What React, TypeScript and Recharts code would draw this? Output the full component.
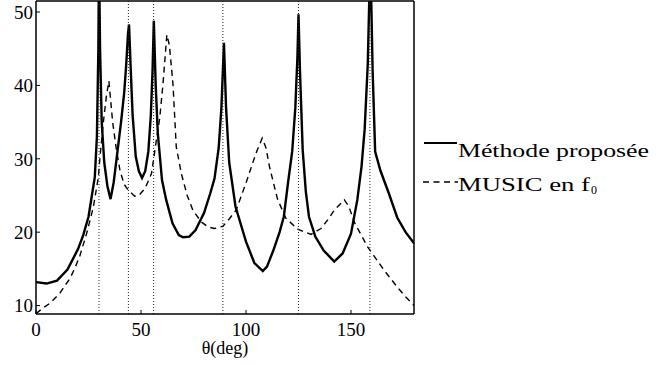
import { Legend, Line, LineChart, ReferenceLine, XAxis, YAxis } from "recharts";

const FONT = "'Liberation Serif', 'Times New Roman', Times, serif";

// theta (deg) / level for the proposed method (solid)
const methodTheta = [
  0, 5, 10, 15, 20, 22.5, 25, 26.5, 28, 29, 29.7, 30, 30.5, 31.3, 32.5, 34, 35.5,
  37, 38.8, 40.5, 42, 43, 43.8, 44.3, 45, 46, 47.5, 49, 50.5, 52, 53.5, 54.7, 55.5,
  56.1, 57, 58, 60, 62, 65, 68, 70, 73, 76, 80, 83, 85, 87, 88.3, 89.5, 90.5, 92,
  95, 100, 104, 108, 110, 113, 116, 118, 120, 122, 123.5, 124.5, 125, 125.7, 127,
  128.5, 130, 133, 137, 142, 146, 150, 153, 155, 156.5, 158, 159.2, 160.3, 161.5,
  164, 168, 172, 176, 180,
];
const methodLevel = [
  13.2, 13.0, 13.4, 14.9, 17.7, 19.6, 22.1, 24.8, 27.5, 33, 45, 58, 45, 35, 29.5,
  26.3, 24.5, 26.8, 31, 35, 39, 43, 47, 48.3, 43, 36, 30.3, 28.3, 27.4, 28.3, 31,
  36, 42, 48.8, 40, 33.5, 27.1, 24.4, 21.2, 19.6, 19.3, 19.4, 20.3, 22.6, 25.3,
  27.3, 31.5, 37, 45.8, 37, 29.5, 23.5, 18.7, 15.8, 14.7, 15.3, 17.5, 20, 22.1,
  26.7, 31, 37, 44, 49.7, 42, 31.2, 25.5, 22.1, 19.4, 17.5, 16.0, 17.1, 19.8,
  24.4, 28.9, 34, 43, 58, 42, 31, 28.4, 25.3, 22, 20, 18.5,
];

// theta (deg) / level for MUSIC at f0 (dashed)
const musicTheta = [
  0, 3, 6.6, 9, 11.4, 13.5, 16.2, 18.5, 20.9, 24.1, 27.3, 29.7, 30.4, 32, 33.5,
  34.7, 36.5, 38.3, 40, 42, 44, 47, 49, 52, 55, 57.3, 58.9, 60.5, 62.3, 63.5, 65.2,
  66.8, 69.2, 72, 74.7, 78.7, 82, 85, 89, 92, 95.3, 100, 104.8, 107.7, 109.5,
  111.2, 115, 119, 124.6, 131, 135.7, 139, 142, 146.8, 149, 151.5, 157.9, 165.8,
  172.1, 176, 180,
];
const musicLevel = [
  8.9, 9.6, 10.3, 11.0, 11.7, 12.6, 13.7, 15.1, 16.8, 19.8, 23.4, 27.5, 30, 34.8,
  38.5, 40.6, 35, 31.2, 28.4, 26.5, 25.7, 24.9, 25.0, 26, 28, 32.5, 35.5, 40.3,
  46.9, 45.5, 40.3, 31.6, 28, 25, 23, 21.4, 20.7, 20.5, 20.8, 21.8, 23, 26.7,
  30.8, 32.8, 31.5, 28.9, 24.5, 21.9, 20.4, 19.7, 20.5, 21.7, 23, 24.4, 23.5,
  21.4, 18, 14.8, 12.5, 11.2, 10.0,
];

// true source directions (dotted markers)
const sourceTheta = [30, 44, 56, 89, 125, 159];

const xTicks = [0, 50, 100, 150];
const yTicks = [10, 20, 30, 40, 50];
const xDomain = [0, 180];
const yDomain = [8.85, 51.5];

const methodData = methodTheta.map((theta, i) => ({ theta, v: methodLevel[i] }));
const musicData = musicTheta.map((theta, i) => ({ theta, v: musicLevel[i] }));

const tickStyle = { fill: "#000", fontSize: 19, style: { fontFamily: FONT } };
const axisLine = { stroke: "#000", strokeWidth: 1.5 };
const textStyle = { fontFamily: FONT };

function LegendBox() {
  return (
    <svg width={250} height={80} style={{ display: "block", fontFamily: FONT }}>
      <line x1={9} x2={42} y1={18} y2={18} stroke="#000" strokeWidth={2} />
      <text
        x={43}
        y={32}
        fontSize={19}
        style={textStyle}
        textLength={191}
        lengthAdjust="spacingAndGlyphs"
      >
        Méthode proposée
      </text>
      <line
        x1={8}
        x2={43}
        y1={57}
        y2={57}
        stroke="#000"
        strokeWidth={1.5}
        strokeDasharray="6 4.5"
      />
      <text
        x={43}
        y={66}
        fontSize={19}
        style={textStyle}
        textLength={132}
        lengthAdjust="spacingAndGlyphs"
      >
        MUSIC en f
      </text>
      <text x={176} y={69} fontSize={12} style={textStyle}>
        0
      </text>
    </svg>
  );
}

export default function App() {
  return (
    <div
      style={{
        position: "absolute",
        left: 0,
        top: 0,
        background: "#fff",
        fontFamily: FONT,
      }}
    >
      <LineChart
        width={666}
        height={365}
        margin={{ top: 0, right: 251, bottom: 0, left: 0 }}
        style={{ fontFamily: FONT }}
      >
        <XAxis
          xAxisId="b"
          dataKey="theta"
          type="number"
          domain={xDomain}
          ticks={xTicks}
          allowDataOverflow
          height={51}
          tickSize={-4}
          tickMargin={13}
          tick={tickStyle}
          axisLine={axisLine}
          tickLine={{ stroke: "#000" }}
          label={{
            value: "θ(deg)",
            position: "insideBottom",
            offset: 11,
            fill: "#000",
            fontSize: 18,
            style: textStyle,
          }}
        />
        <XAxis
          xAxisId="t"
          orientation="top"
          type="number"
          domain={xDomain}
          ticks={xTicks}
          allowDataOverflow
          height={1}
          tickSize={-4}
          tick={false}
          axisLine={axisLine}
          tickLine={{ stroke: "#000" }}
        />
        <YAxis
          yAxisId="l"
          type="number"
          domain={yDomain}
          ticks={yTicks}
          allowDataOverflow
          width={36}
          tickSize={-4}
          tickMargin={7}
          tick={tickStyle}
          axisLine={axisLine}
          tickLine={{ stroke: "#000" }}
        />
        <YAxis
          yAxisId="r"
          orientation="right"
          type="number"
          domain={yDomain}
          ticks={yTicks}
          allowDataOverflow
          width={1}
          tickSize={-4}
          tick={false}
          axisLine={axisLine}
          tickLine={{ stroke: "#000" }}
        />
        <Line
          data={musicData}
          dataKey="v"
          xAxisId="b"
          yAxisId="l"
          type="linear"
          stroke="#000"
          strokeWidth={1.4}
          strokeDasharray="6 4.5"
          dot={false}
          isAnimationActive={false}
        />
        <Line
          data={methodData}
          dataKey="v"
          xAxisId="b"
          yAxisId="l"
          type="linear"
          stroke="#000"
          strokeWidth={2.4}
          dot={false}
          isAnimationActive={false}
        />
        {sourceTheta.map((t) => (
          <ReferenceLine
            key={t}
            x={t}
            xAxisId="b"
            yAxisId="l"
            stroke="#222"
            strokeWidth={1}
            strokeDasharray="1 2"
          />
        ))}
        <Legend
          layout="horizontal"
          align="center"
          verticalAlign="middle"
          content={() => <LegendBox />}
          wrapperStyle={{ position: "absolute", left: 415, top: 125, width: 250, height: 80 }}
        />
      </LineChart>
    </div>
  );
}
